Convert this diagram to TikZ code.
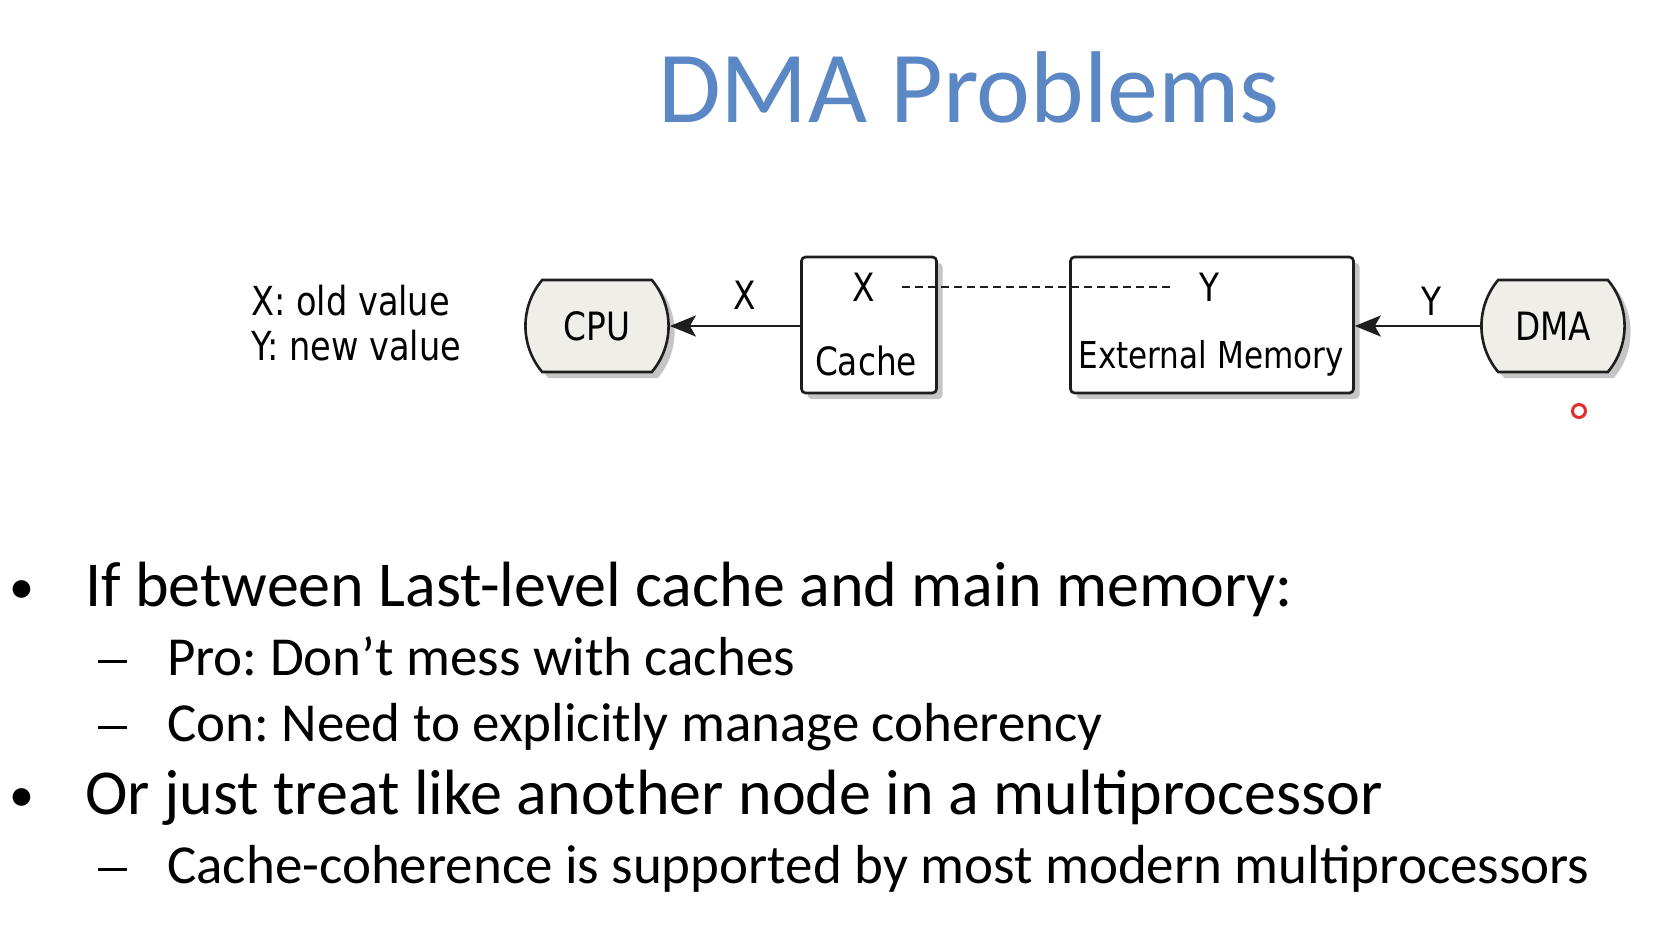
\documentclass[tikz,border=0pt]{standalone}
\usepackage{fontspec}
\setmainfont{Carlito}
\newfontfamily\umlfont[FakeStretch=0.84]{DejaVu Sans}
\usetikzlibrary{arrows.meta,positioning,shapes.misc,shadows}
\definecolor{titleblue}{HTML}{5B87C4}
\definecolor{umlline}{HTML}{1E1E1E}
\definecolor{umlfill}{HTML}{F0EEE9}
\definecolor{pointer}{HTML}{E0302A}
\frenchspacing
\tikzset{
  umlbox/.style={draw=umlline, fill=white, rounded corners=4pt, line width=2.6pt, inner sep=0pt,
                 drop shadow={shadow xshift=6pt, shadow yshift=-6pt, opacity=0.45}},
  umlagent/.style={rounded rectangle, rounded rectangle arc length=80, draw=umlline, fill=umlfill,
                   line width=2.6pt, inner sep=0pt, minimum height=92pt, minimum width=134pt,
                   font=\umlfont\fontsize{39}{44}\selectfont,
                   drop shadow={shadow xshift=6pt, shadow yshift=-6pt, opacity=0.45}},
  umltext/.style={font=\umlfont\fontsize{39}{44}\selectfont, inner sep=1pt},
  flow/.style={-{Stealth[length=26pt,width=21pt,inset=6pt]}, line width=2.4pt, draw=umlline},
  dashline/.style={dash pattern=on 8pt off 5pt, line width=2pt, draw=umlline},
  headline/.style={font=\fontsize{102}{110}\selectfont, text=titleblue, inner sep=0pt, anchor=base},
  lvlone/.style={font=\fontsize{64}{70}\selectfont, anchor=base west, inner sep=0pt},
  lvltwo/.style={font=\fontsize{55}{62}\selectfont, anchor=base west, inner sep=0pt},
  mark1/.style={font=\fontsize{50}{60}\selectfont, anchor=base, inner sep=0pt},
  mark2/.style={anchor=base, inner sep=0pt}
}

\begin{document}
\begin{tikzpicture}[x=1pt,y=-1pt]
  \useasboundingbox[fill=white] (0,0) rectangle (1658,942);

  % title
  \node[headline] (title) at (969,122) {DMA Problems};

  % legend
  \node[umltext, anchor=base west, font=\umlfont\fontsize{40}{44}\selectfont] (legx) at (250,315) {X: old value};
  \node[umltext, anchor=base west, font=\umlfont\fontsize{40}{44}\selectfont] (legy) at (250,360) {Y: new value};

  % components
  \node[umlagent] (cpu) at (597,326) {CPU};
  \node[umlbox, minimum width=135pt, minimum height=136pt] (cachebox) at (869,325) {};
  \node[umltext] (cachex) at (864,287) {X};
  \node[umltext, anchor=base] (cachelbl) at (866,375) {Cache};
  \node[umlbox, minimum width=283pt, minimum height=136pt] (extmem) at (1212,325) {};
  \node[umltext] (extmemy) at (1209,287) {Y};
  \node[umltext, anchor=base, font=\umlfont\fontsize{37}{44}\selectfont] (extmemlbl) at (1211,368) {External Memory};
  \node[umlagent] (dma) at (1553,326) {DMA};

  % connectors
  \draw[flow] (cachebox.west |- cpu.east) -- node[umltext, above=14pt, xshift=10pt] (flowx) {X} (cpu.east);
  \draw[flow] (dma.west) -- node[umltext, above=8pt, xshift=14pt] (flowy) {Y} (extmem.east |- dma.west);
  \draw[dashline, shorten <=26pt, shorten >=26pt] (cachex.east) -- (extmemy.west);

  % pointer
  \node[circle, draw=pointer, fill=white, line width=3pt, minimum size=13pt, inner sep=0pt] (laser) at (1579,411) {};

  % bullets
  \node[mark1] (b1) at (22,603) {•};
  \node[lvlone] (t1) at (85,606) {If between Last-level cache and main memory:};
  \node[mark2] (d1) at (112,675) {\rule[12pt]{29pt}{3.4pt}};
  \node[lvltwo] (t1a) at (167,675) {Pro: Don’t mess with caches};
  \node[mark2] (d2) at (112,741) {\rule[12pt]{29pt}{3.4pt}};
  \node[lvltwo] (t1b) at (167,741) {Con: Need to explicitly manage coherency};
  \node[mark1] (b2) at (22,811) {•};
  \node[lvlone] (t2) at (85,814) {Or just treat like another node in a multiprocessor};
  \node[mark2] (d3) at (112,883) {\rule[12pt]{29pt}{3.4pt}};
  \node[lvltwo] (t2a) at (167,883) {Cache-coherence is supported by most modern multiprocessors};
\end{tikzpicture}
\end{document}
